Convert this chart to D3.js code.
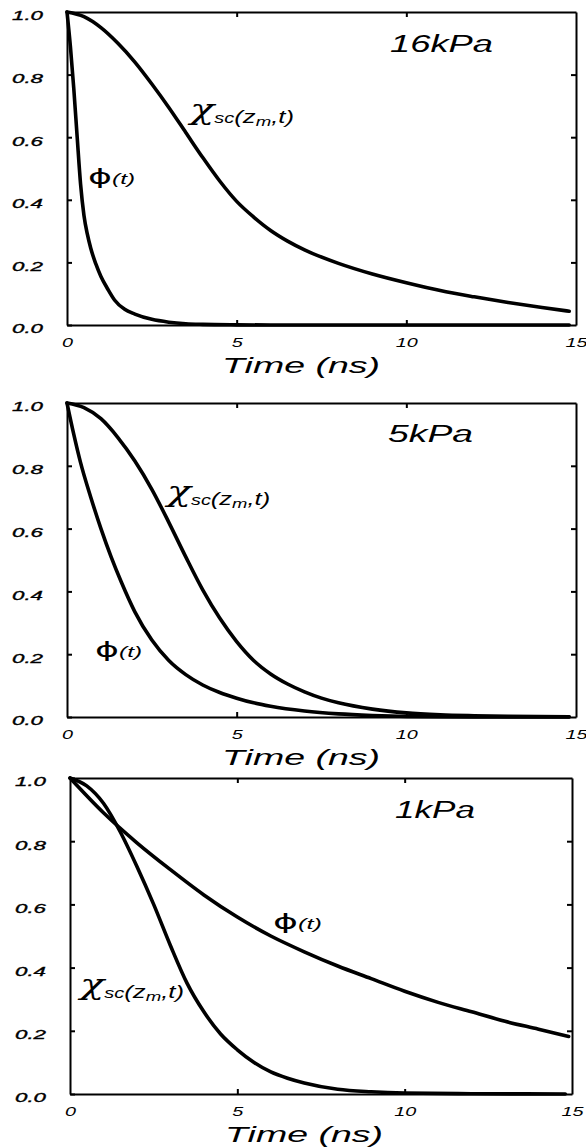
<!DOCTYPE html>
<html>
<head>
<meta charset="utf-8">
<script src="https://cdn.jsdelivr.net/npm/d3@7"></script>
<style>
  html, body { margin: 0; padding: 0; background: #ffffff; }
  svg { display: block; }
</style>
</head>
<body>
<script>
// ---------------- DATA ----------------
const panelLabels = ["16kPa", "5kPa", "1kPa"];
const xTickValues = [0, 5, 10, 15];
const xTickLabels = ["0", "5", "10", "15"];
const yTickValues = [0, 0.2, 0.4, 0.6, 0.8, 1.0];
const yTickLabels = ["0.0", "0.2", "0.4", "0.6", "0.8", "1.0"];
const xAxisTitle = "Time (ns)";

// 16 kPa
const phi16_t = [0, 0.1, 0.2, 0.3, 0.4, 0.5, 0.6, 0.7, 0.85, 1.0, 1.2, 1.4, 1.7, 2.0, 2.5, 3.0, 3.5, 4.0, 5.0, 6.0, 10.0, 14.8];
const phi16_v = [1, 0.89, 0.755, 0.6, 0.45, 0.35, 0.29, 0.245, 0.195, 0.155, 0.115, 0.08, 0.05, 0.035, 0.018, 0.009, 0.004, 0.002, 0.0005, 0, 0, 0];
const chi16_t = [0, 0.5, 1.0, 1.5, 2.0, 2.5, 3.0, 3.5, 4.0, 4.5, 5.0, 5.5, 6.0, 6.5, 7.0, 8.0, 9.0, 10.0, 11.0, 12.0, 13.0, 14.0, 14.8];
const chi16_v = [1, 0.985, 0.95, 0.9, 0.84, 0.77, 0.695, 0.615, 0.535, 0.46, 0.395, 0.345, 0.302, 0.268, 0.24, 0.197, 0.163, 0.135, 0.11, 0.09, 0.072, 0.056, 0.044];

// 5 kPa
const phi5_t = [0, 0.2, 0.4, 0.7, 1.0, 1.3, 1.6, 2.0, 2.5, 3.0, 3.5, 4.0, 4.5, 5.0, 5.5, 6.0, 7.0, 8.0, 9.0, 10.0, 12.0, 14.8];
const phi5_v = [1, 0.9, 0.81, 0.7, 0.6, 0.51, 0.43, 0.335, 0.245, 0.18, 0.135, 0.102, 0.078, 0.06, 0.045, 0.034, 0.019, 0.01, 0.005, 0.002, 0.0005, 0];
const chi5_t = [0, 0.5, 1.0, 1.5, 2.0, 2.5, 3.0, 3.5, 4.0, 4.5, 5.0, 5.5, 6.0, 6.5, 7.0, 7.5, 8.0, 9.0, 10.0, 11.0, 12.0, 13.0, 14.8];
const chi5_v = [1, 0.985, 0.95, 0.89, 0.815, 0.725, 0.62, 0.51, 0.405, 0.315, 0.24, 0.18, 0.137, 0.105, 0.08, 0.06, 0.045, 0.025, 0.013, 0.007, 0.004, 0.002, 0.001];

// 1 kPa
const phi1_t = [0, 1, 2, 3, 4, 5, 6, 7, 8, 9, 10, 11, 12, 13, 14, 14.9];
const phi1_v = [1, 0.89, 0.795, 0.71, 0.63, 0.56, 0.5, 0.45, 0.405, 0.365, 0.325, 0.29, 0.26, 0.23, 0.205, 0.182];
const chi1_t = [0, 0.5, 1.0, 1.5, 2.0, 2.5, 3.0, 3.5, 4.0, 4.5, 5.0, 5.5, 6.0, 6.5, 7.0, 8.0, 9.0, 10.0, 12.0, 14.8];
const chi1_v = [1, 0.975, 0.92, 0.83, 0.72, 0.6, 0.47, 0.35, 0.26, 0.19, 0.14, 0.1, 0.07, 0.05, 0.035, 0.015, 0.007, 0.003, 0.001, 0];

// ---------------- LAYOUT ----------------
const W = 586, H = 1147;
const panels = [
  { left: 67, right: 576, top: 12,  bottom: 325,
    phiT: phi16_t, phiV: phi16_v, chiT: chi16_t, chiV: chi16_v,
    title: { x: 390, y: 52, w: 103 }, chiLab: { x: 190, y: 123, w: 107 }, phiLab: { x: 88, y: 184, w: 47 } },
  { left: 67, right: 576, top: 403, bottom: 717,
    phiT: phi5_t, phiV: phi5_v, chiT: chi5_t, chiV: chi5_v,
    title: { x: 388, y: 442, w: 85 }, chiLab: { x: 167, y: 505, w: 106 }, phiLab: { x: 95, y: 657, w: 47 } },
  { left: 70, right: 572, top: 778, bottom: 1094,
    phiT: phi1_t, phiV: phi1_v, chiT: chi1_t, chiV: chi1_v,
    title: { x: 395, y: 818, w: 80 }, chiLab: { x: 80, y: 998, w: 107 }, phiLab: { x: 273, y: 929, w: 49 } }
];

const sansIt = "'Liberation Sans', Arial, Helvetica, sans-serif";

const svg = d3.select("body").append("svg")
  .attr("width", W).attr("height", H)
  .attr("viewBox", `0 0 ${W} ${H}`);

svg.append("rect").attr("width", W).attr("height", H).attr("fill", "#fff");

function stretchTo(textSel, x, y, targetW) {
  const w = textSel.node().getBBox().width;
  const s = w > 0 ? targetW / w : 1;
  textSel.attr("transform", `translate(${x},${y}) scale(${s},1)`);
}

panels.forEach((p, i) => {
  const g = svg.append("g");
  const x = d3.scaleLinear().domain([0, 15]).range([p.left, p.right]);
  const y = d3.scaleLinear().domain([0, 1]).range([p.bottom, p.top]);

  // left axis with labels
  const left = g.append("g").attr("transform", `translate(${p.left},0)`)
    .call(d3.axisLeft(y).tickValues(yTickValues)
      .tickFormat((d, j) => yTickLabels[j])
      .tickSizeInner(-5).tickSizeOuter(0).tickPadding(24));
  left.selectAll("text")
    .attr("font-family", sansIt).attr("font-style", "italic")
    .attr("font-size", 13).attr("fill", "#000")
    .attr("stroke", "#000").attr("stroke-width", 0.35)
    .attr("dy", "0.6em")
    .attr("textLength", 31).attr("lengthAdjust", "spacingAndGlyphs");

  // right axis (ticks only)
  g.append("g").attr("transform", `translate(${p.right},0)`)
    .call(d3.axisRight(y).tickValues([0.2, 0.4, 0.6, 0.8]).tickFormat("")
      .tickSizeInner(-5).tickSizeOuter(0));

  // top axis (ticks only)
  g.append("g").attr("transform", `translate(0,${p.top})`)
    .call(d3.axisTop(x).tickValues([5, 10]).tickFormat("")
      .tickSizeInner(-5).tickSizeOuter(0));

  // bottom axis with labels
  const bottom = g.append("g").attr("transform", `translate(0,${p.bottom})`)
    .call(d3.axisBottom(x).tickValues(xTickValues)
      .tickFormat((d, j) => xTickLabels[j])
      .tickSizeInner(-5).tickSizeOuter(0).tickPadding(13));
  bottom.selectAll(".tick line").filter(d => d === 0 || d === 15).remove();
  bottom.selectAll("text")
    .attr("font-family", sansIt).attr("font-style", "italic")
    .attr("font-size", 12.5).attr("fill", "#000")
    .attr("textLength", (d, j) => xTickLabels[j].length * 11)
    .attr("lengthAdjust", "spacingAndGlyphs");

  g.selectAll(".domain").attr("stroke", "#000").attr("stroke-width", 2);
  g.selectAll(".tick line").attr("stroke", "#000").attr("stroke-width", 2);

  // axis title
  g.append("text")
    .attr("x", p.left + 155).attr("y", p.bottom + 48)
    .attr("font-family", sansIt).attr("font-style", "italic")
    .attr("font-size", 22).attr("fill", "#000")
    .attr("textLength", 158).attr("lengthAdjust", "spacingAndGlyphs")
    .text(xAxisTitle);

  // curves
  const line = d3.line()
    .x(d => x(d[0])).y(d => y(d[1]))
    .curve(d3.curveMonotoneX);
  const phiData = d3.zip(p.phiT, p.phiV);
  const chiData = d3.zip(p.chiT, p.chiV);
  [chiData, phiData].forEach(dat => {
    g.append("path").datum(dat)
      .attr("d", line)
      .attr("fill", "none").attr("stroke", "#000")
      .attr("stroke-width", 3.6).attr("stroke-linejoin", "round")
      .attr("stroke-linecap", "round");
  });

  // panel title
  g.append("text")
    .attr("x", p.title.x).attr("y", p.title.y)
    .attr("font-family", sansIt).attr("font-style", "italic")
    .attr("font-size", 23).attr("fill", "#000")
    .attr("textLength", p.title.w).attr("lengthAdjust", "spacingAndGlyphs")
    .text(panelLabels[i]);

  // chi label
  const chi = g.append("text").attr("fill", "#000")
    .attr("font-family", sansIt).attr("font-style", "italic");
  chi.append("tspan").attr("font-family", "'DejaVu Serif', 'Liberation Serif', serif").attr("font-style", "italic")
    .attr("font-size", 28).attr("dy", -4).text("χ");
  chi.append("tspan").attr("font-size", 14).attr("dy", 4).text("sc");
  chi.append("tspan").attr("font-size", 18).text("(z");
  chi.append("tspan").attr("font-size", 13).attr("dy", 3).text("m");
  chi.append("tspan").attr("font-size", 18).attr("dy", -3).text(",t)");
  stretchTo(chi, p.chiLab.x, p.chiLab.y, p.chiLab.w);

  // phi label
  const phi = g.append("text").attr("fill", "#000");
  phi.append("tspan").attr("font-family", "'DejaVu Sans', sans-serif")
    .attr("font-size", 21).text("ϕ");
  phi.append("tspan").attr("font-family", sansIt).attr("font-style", "italic")
    .attr("font-size", 14).text("(t)");
  stretchTo(phi, p.phiLab.x, p.phiLab.y, p.phiLab.w);
});
</script>
</body>
</html>
